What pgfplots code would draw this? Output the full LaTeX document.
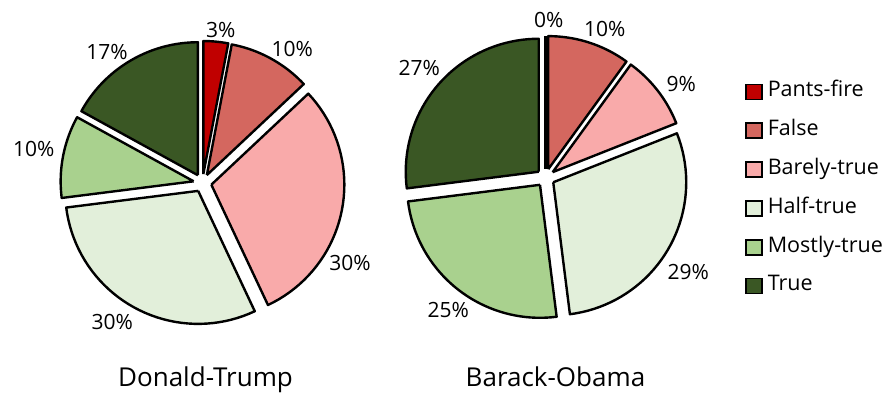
\documentclass[border=0pt]{standalone}
\usepackage{pgfplots}
\usepackage{pgfplotstable}
\pgfplotsset{compat=1.18}
\usepackage{fontspec}
\setmainfont{Open Sans}

\definecolor{cPF}{HTML}{C00000}
\definecolor{cF}{HTML}{D4675F}
\definecolor{cBT}{HTML}{F9AAAA}
\definecolor{cHT}{HTML}{E2EFDA}
\definecolor{cMT}{HTML}{A9D18E}
\definecolor{cT}{HTML}{3A5724}

\pgfplotstableread{
cat col trump obama
Pants-fire cPF 3 0
False cF 10 10
Barely-true cBT 30 9
Half-true cHT 30 29
Mostly-true cMT 10 25
True cT 17 27
}\piedata

\newcommand\pieR{133}
\newcommand\pieD{9}

\newcommand\drawpie[3]{%
  \def\cum{0}%
  \pgfplotsforeachungrouped \i in {0,...,5}{%
    \pgfplotstablegetelem{\i}{#1}\of\piedata \let\pct\pgfplotsretval
    \pgfplotstablegetelem{\i}{col}\of\piedata \let\col\pgfplotsretval
    \pgfmathsetmacro\angA{90-3.6*\cum}%
    \pgfmathsetmacro\angB{90-3.6*(\cum+\pct)}%
    \pgfmathsetmacro\angM{(\angA+\angB)/2}%
    \pgfmathsetmacro\vX{#2+\pieD*cos(\angM)}%
    \pgfmathsetmacro\vY{#3+\pieD*sin(\angM)}%
    \ifdim\pct pt>0pt
      \pgfmathsetmacro\stp{(\angA-\angB)/40}%
      \pgfmathsetmacro\dlo{\angB-\stp}%
      \pgfmathsetmacro\dhi{\angA+\stp}%
      \pgfmathsetmacro\tlo{\angB-\stp/2}%
      \pgfmathsetmacro\thi{\angA+\stp/2}%
      \edef\tmp{\noexpand\addplot[forget plot, fill=\col, draw=black, line width=2.4pt, line join=round, domain=\dlo:\dhi, samples=43, variable=\noexpand\t] ({(\noexpand\t<\tlo || \noexpand\t>\thi) ? \vX : \vX+\pieR*cos(\noexpand\t)}, {(\noexpand\t<\tlo || \noexpand\t>\thi) ? \vY : \vY+\pieR*sin(\noexpand\t)});}%
      \tmp
    \else
      \pgfmathsetmacro\eX{\vX+\pieR*cos(\angA)}%
      \pgfmathsetmacro\eY{\vY+\pieR*sin(\angA)}%
      \edef\tmp{\noexpand\addplot[forget plot, draw=black, line width=3pt] coordinates {(\vX,\vY) (\eX,\eY)};}%
      \tmp
    \fi
    \pgfmathsetmacro\cum{\cum+\pct}%
  }%
}

\pgfplotsset{sq/.style={legend image code/.code={\draw[line width=1.8pt,draw=black,fill=#1] (0pt,-7.5pt) rectangle (16pt,7.5pt);}}}

\begin{document}
\begin{tikzpicture}
\begin{axis}[
  x=1pt, y=1pt, xmin=0, xmax=887, ymin=0, ymax=396,
  anchor=origin, at={(0,0)},
  hide axis, clip=false,
  legend cell align=left,
  legend style={draw=none, fill=none, at={(axis cs:745,313)}, anchor=north west,
    inner sep=0pt, outer sep=0pt, font=\fontsize{21.5}{21.5}\selectfont, row sep=20.8pt,
    nodes={inner sep=0pt, text height=14pt, text depth=4pt},
    /tikz/every odd column/.append style={column sep=5pt}},
]
\addlegendimage{sq=cPF}\addlegendentry{Pants-fire}
\addlegendimage{sq=cF}\addlegendentry{False}
\addlegendimage{sq=cBT}\addlegendentry{Barely-true}
\addlegendimage{sq=cHT}\addlegendentry{Half-true}
\addlegendimage{sq=cMT}\addlegendentry{Mostly-true}
\addlegendimage{sq=cT}\addlegendentry{True}

\drawpie{trump}{202.5}{213}
\drawpie{obama}{545.5}{218.3}

\begin{scope}[every node/.style={font=\fontsize{21}{21}\selectfont, inner sep=0pt}]
\node at (axis cs:220.7,366) {3\%};
\node at (axis cs:292.3,347) {10\%};
\node at (axis cs:350,133) {30\%};
\node at (axis cs:112.3,74) {30\%};
\node at (axis cs:33.7,247) {10\%};
\node at (axis cs:107,344) {17\%};
\node at (axis cs:548.7,376) {0\%};
\node at (axis cs:604.7,367) {10\%};
\node at (axis cs:681.3,311.7) {9\%};
\node at (axis cs:688.3,123.7) {29\%};
\node at (axis cs:448.3,86) {25\%};
\node at (axis cs:419.2,327.7) {27\%};
\end{scope}
\node[font=\fontsize{26}{26}\selectfont, inner sep=0pt, anchor=base] at (axis cs:205.5,9) {Donald-Trump};
\node[font=\fontsize{26}{26}\selectfont, inner sep=0pt, anchor=base] at (axis cs:555.5,9) {Barack-Obama};
\end{axis}
\pgfresetboundingbox
\useasboundingbox (0,0) rectangle (887pt,396pt);
\end{tikzpicture}
\end{document}
